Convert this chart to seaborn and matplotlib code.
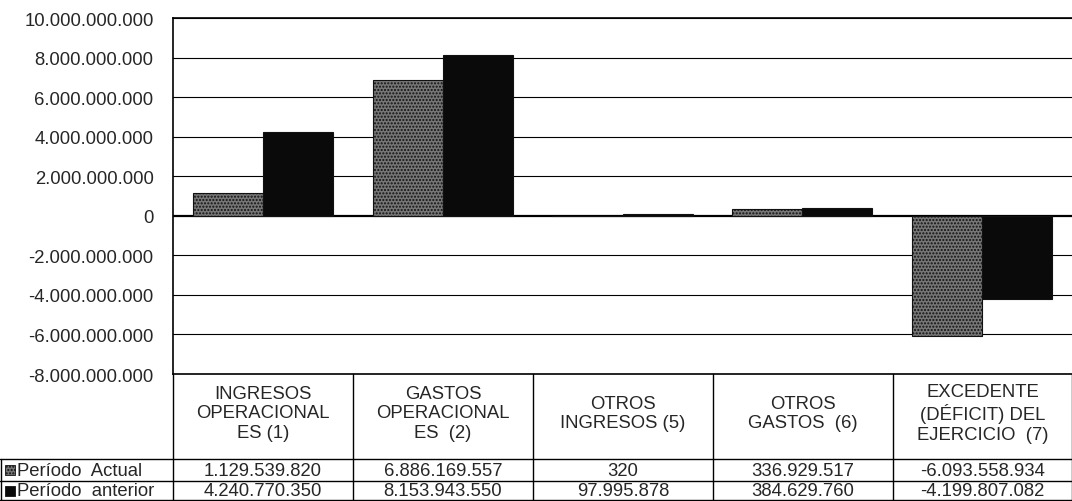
import pandas as pd
import seaborn as sns
import matplotlib.pyplot as plt
from matplotlib.patches import Rectangle
from matplotlib.lines import Line2D

# data
categorias = ['INGRESOS\nOPERACIONAL\nES (1)', 'GASTOS\nOPERACIONAL\nES  (2)',
              'OTROS\nINGRESOS (5)', 'OTROS\nGASTOS  (6)',
              'EXCEDENTE\n(DÉFICIT) DEL\nEJERCICIO  (7)']
series = ['Período  Actual', 'Período  anterior']
actual = [1129539820, 6886169557, 320, 336929517, -6093558934]
anterior = [4240770350, 8153943550, 97995878, 384629760, -4199807082]
yticks = [-8e9, -6e9, -4e9, -2e9, 0, 2e9, 4e9, 6e9, 8e9, 10e9]

def fmt(v):
    return f"{int(v):,}".replace(",", ".")

sns.set_style('white')
plt.rcParams['font.family'] = ['Liberation Sans', 'DejaVu Sans']
FS = 13.3

df = pd.DataFrame({
    'cat': list(range(5)) * 2,
    'serie': [series[0]] * 5 + [series[1]] * 5,
    'valor': actual + anterior,
})

W, H = 1072, 502
fig = plt.figure(figsize=(W / 100, H / 100), dpi=100)
x0, x1, ytop, ybot = 173, 1072, 19, 375
ax = fig.add_axes([x0 / W, 1 - ybot / H, (x1 - x0) / W, (ybot - ytop) / H])

colores = {series[0]: '#767676', series[1]: '#0a0a0a'}
sns.barplot(data=df, x='cat', y='valor', hue='serie', palette=colores,
            width=0.78, ax=ax, legend=False, saturation=1, edgecolor='#111111',
            linewidth=0.8)
for p in ax.patches[:5]:
    p.set_hatch('.....')

ax.set_ylim(-8e9, 10e9)
ax.set_xlim(-0.5, 4.5)
ax.set_yticks(yticks)
ax.set_yticklabels([fmt(v) for v in yticks], fontsize=FS)
ax.tick_params(axis='y', length=0, pad=14)
ax.set_xticks([])
ax.set_xlabel('')
ax.set_ylabel('')
for v in yticks:
    ax.axhline(v, color='black', lw=0.8 if v != 0 else 1.6, zorder=0)
for s in ['left', 'top', 'bottom']:
    ax.spines[s].set_color('black')
    ax.spines[s].set_linewidth(1.2)
ax.spines['right'].set_visible(False)

# data table below the chart
def fx(px):
    return px / W

def fy(py):
    return 1 - py / H

def hline(y, xa, xb):
    fig.add_artist(Line2D([fx(xa), fx(xb)], [fy(y), fy(y)], color='black', lw=1))

def vline(x, ya, yb):
    fig.add_artist(Line2D([fx(x), fx(x)], [fy(ya), fy(yb)], color='black', lw=1))

cols = [173, 353, 533, 713, 893, 1072]
hline(460, 0, 1072)
hline(482, 0, 1072)
hline(501, 0, 1072)
vline(1, 460, 501)
for c in cols:
    vline(c, 375, 501)

for i, cat in enumerate(categorias):
    cx = (cols[i] + cols[i + 1]) / 2
    fig.text(fx(cx), fy(414), cat, ha='center', va='center', fontsize=FS,
             linespacing=1.2)
    fig.text(fx(cx), fy(471), fmt(actual[i]), ha='center', va='center', fontsize=FS)
    fig.text(fx(cx), fy(492), fmt(anterior[i]), ha='center', va='center', fontsize=FS)

for j, (serie, yy) in enumerate(zip(series, [471, 492])):
    fig.add_artist(Rectangle((fx(5), fy(yy + 5)), fx(10), 10 / H,
                             facecolor=colores[serie], edgecolor='#111111', lw=0.6,
                             hatch='.....' if j == 0 else None))
    fig.text(fx(17), fy(yy), serie, ha='left', va='center', fontsize=FS)

plt.savefig('out.png', dpi=100)
